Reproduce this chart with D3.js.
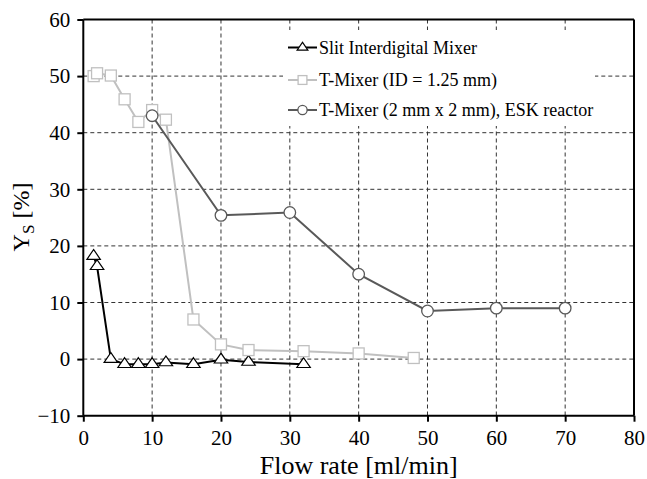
<!DOCTYPE html>
<html>
<head>
<meta charset="utf-8">
<script src="https://cdn.jsdelivr.net/npm/d3@7"></script>
<style>
  body { margin: 0; background: #fff; }
  svg text { font-family: "Liberation Serif", "Times New Roman", serif; fill: #000; }
</style>
</head>
<body>
<div id="chart"></div>
<script>
// flow rate [ml/min] and Y_S [%] per mixer
const slitFlow = [1.5, 2, 4, 6, 8, 10, 12, 16, 20, 24, 32];
const slitYs = [18.2, 16.4, 0, -0.9, -0.9, -0.9, -0.6, -0.9, -0.1, -0.5, -0.9];

const tMixerFlow = [1.5, 2, 4, 6, 8, 10, 12, 16, 20, 24, 32, 40, 48];
const tMixerYs = [50.0, 50.5, 50.1, 45.9, 41.9, 44.0, 42.3, 7.0, 2.6, 1.6, 1.4, 1.0, 0.2];

const eskFlow = [10, 20, 30, 40, 50, 60, 70];
const eskYs = [43.0, 25.4, 25.9, 15.0, 8.5, 9.0, 9.0];

const seriesNames = ["Slit Interdigital Mixer", "T-Mixer (ID = 1.25 mm)", "T-Mixer (2 mm x 2 mm), ESK reactor"];
const xTicks = [0, 10, 20, 30, 40, 50, 60, 70, 80];
const yTicks = [-10, 0, 10, 20, 30, 40, 50, 60];

const W = 647, H = 479;
const plotL = 83.3, plotR = 634, plotT = 19.5, plotB = 415.7;
const serif = "'Liberation Serif', 'Times New Roman', serif";

const svg = d3.select("#chart").append("svg")
    .attr("width", W)
    .attr("height", H);

const x = d3.scaleLinear().domain([0, 80]).range([plotL, plotR]);
const y = d3.scaleLinear().domain([-10, 60]).range([plotB, plotT]);

// dashed grid
svg.append("g").selectAll("line").data(xTicks.slice(1, -1))
    .join("line")
    .attr("x1", d => x(d)).attr("x2", d => x(d))
    .attr("y1", plotT).attr("y2", plotB)
    .attr("stroke", "#333").attr("stroke-width", 1).attr("stroke-dasharray", "4,3");
svg.append("g").selectAll("line").data(yTicks.slice(1, -1))
    .join("line")
    .attr("x1", plotL).attr("x2", plotR)
    .attr("y1", d => y(d)).attr("y2", d => y(d))
    .attr("stroke", "#333").attr("stroke-width", 1).attr("stroke-dasharray", "4,3");

// frame
svg.append("line").attr("x1", plotL).attr("x2", plotR).attr("y1", plotT).attr("y2", plotT)
    .attr("stroke", "#000").attr("stroke-width", 2);
svg.append("line").attr("x1", plotR).attr("x2", plotR).attr("y1", plotT).attr("y2", plotB)
    .attr("stroke", "#000").attr("stroke-width", 2);

// axes
const xAxis = svg.append("g")
    .attr("transform", `translate(0,${plotB})`)
    .call(d3.axisBottom(x).tickValues(xTicks).tickSize(6).tickPadding(8));
const yAxis = svg.append("g")
    .attr("transform", `translate(${plotL},0)`)
    .call(d3.axisLeft(y).tickValues(yTicks).tickSize(6).tickPadding(7));
[xAxis, yAxis].forEach(a => {
    a.attr("font-family", serif).attr("font-size", 21);
    a.select(".domain").attr("stroke", "#000").attr("stroke-width", 2);
    a.selectAll(".tick line").attr("stroke", "#000").attr("stroke-width", 2);
    a.selectAll(".tick text").style("font-size", "21px").style("font-family", serif).attr("fill", "#000");
});
yAxis.select(".domain").attr("d", `M0,${plotT}V${plotB}`);
xAxis.select(".domain").attr("d", `M${plotL},0H${plotR}`);

const line = d3.line().x(d => x(d[0])).y(d => y(d[1]));

const series = [
    { name: seriesNames[0], pts: d3.zip(slitFlow, slitYs), color: "#000", marker: "tri" },
    { name: seriesNames[1], pts: d3.zip(tMixerFlow, tMixerYs), color: "#c0c0c0", marker: "sq" },
    { name: seriesNames[2], pts: d3.zip(eskFlow, eskYs), color: "#595959", marker: "circ" },
];

function drawMarker(g, type, color, cx, cy, s) {
    if (type === "tri") {
        g.append("path")
            .attr("d", d3.symbol().type(d3.symbolTriangle).size(72 * s * s)())
            .attr("transform", `translate(${cx},${cy}) scale(1.05,0.88)`)
            .attr("fill", "#fff").attr("stroke", color).attr("stroke-width", 1.2);
    } else if (type === "sq") {
        const a = 11 * s;
        g.append("rect")
            .attr("x", cx - a / 2).attr("y", cy - a / 2)
            .attr("width", a).attr("height", a)
            .attr("fill", "#fff").attr("stroke", color).attr("stroke-width", 1.3);
    } else {
        g.append("circle")
            .attr("cx", cx).attr("cy", cy).attr("r", 5.8 * s)
            .attr("fill", "#fff").attr("stroke", color).attr("stroke-width", 1.3);
    }
}

series.forEach(sr => {
    const g = svg.append("g");
    g.append("path")
        .attr("d", line(sr.pts))
        .attr("fill", "none")
        .attr("stroke", sr.color)
        .attr("stroke-width", 2);
    sr.pts.forEach(p => drawMarker(g, sr.marker, sr.color, x(p[0]), y(p[1]), 1));
});

// legend (white box hides grid)
svg.append("rect")
    .attr("x", 283).attr("y", 30)
    .attr("width", 312).attr("height", 96)
    .attr("fill", "#fff");
const legendY = [47.5, 80, 110];
series.forEach((sr, i) => {
    const g = svg.append("g");
    g.append("line")
        .attr("x1", 288).attr("x2", 317)
        .attr("y1", legendY[i]).attr("y2", legendY[i])
        .attr("stroke", sr.color).attr("stroke-width", 2);
    drawMarker(g, sr.marker, sr.color, 302.5, legendY[i], 0.8);
    g.append("text")
        .attr("x", 319).attr("y", legendY[i])
        .attr("dy", "0.35em")
        .style("font-size", "18px")
        .text(sr.name);
});

// axis titles
svg.append("text")
    .attr("x", (plotL + plotR) / 2).attr("y", 474)
    .attr("text-anchor", "middle")
    .style("font-size", "26px")
    .text("Flow rate [ml/min]");

const yl = svg.append("text")
    .attr("transform", "translate(29,217) rotate(-90)")
    .attr("text-anchor", "middle")
    .style("font-size", "24px");
yl.append("tspan").text("Y");
yl.append("tspan").attr("dy", 5).style("font-size", "17px").text("S");
yl.append("tspan").attr("dy", -5).text(" [%]");
</script>
</body>
</html>
